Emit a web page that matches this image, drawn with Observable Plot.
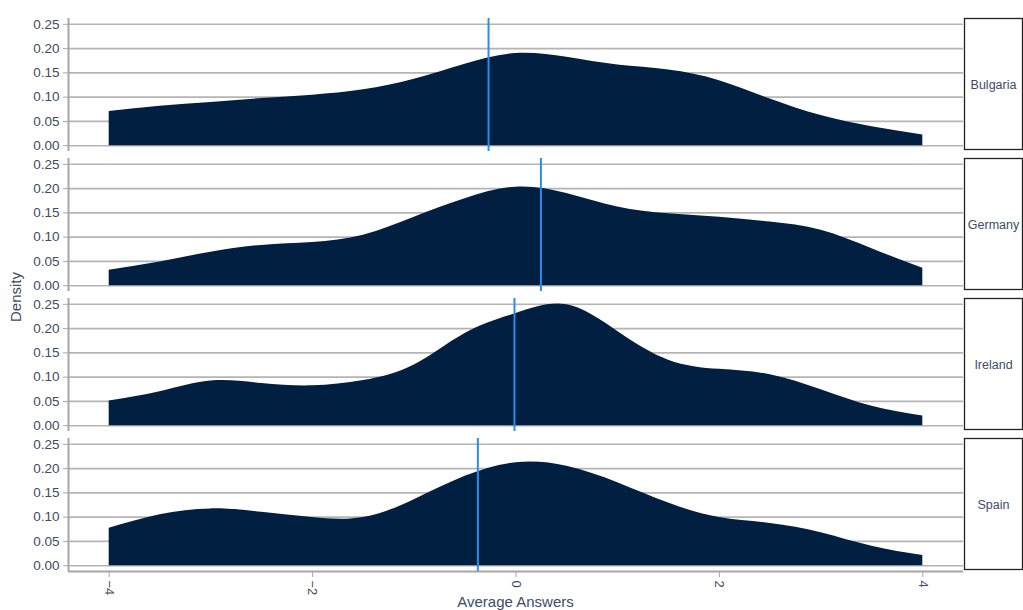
<!DOCTYPE html>
<html>
<head>
<meta charset="utf-8">
<script src="https://cdn.jsdelivr.net/npm/d3@7"></script>
<script src="https://cdn.jsdelivr.net/npm/@observablehq/plot@0.6"></script>
<style>
  html, body { margin: 0; padding: 0; background: #fff; }
  #chart { position: relative; width: 1023px; height: 610px; }
</style>
</head>
<body>
<div id="chart"></div>
<script>
const countries = ["Bulgaria", "Germany", "Ireland", "Spain"];
const answers = [-4, -3.5, -3, -2.5, -2, -1.5, -1, -0.5, 0, 0.5, 1, 1.5, 2, 2.5, 3, 3.5, 4];
const densityBulgaria = [0.0705, 0.081, 0.089, 0.097, 0.104, 0.115, 0.137, 0.168, 0.190, 0.182, 0.166, 0.156, 0.134, 0.096, 0.062, 0.039, 0.022];
const densityGermany  = [0.032, 0.049, 0.069, 0.083, 0.089, 0.104, 0.141, 0.179, 0.203, 0.190, 0.162, 0.148, 0.141, 0.131, 0.114, 0.076, 0.036];
const densityIreland  = [0.051, 0.070, 0.092, 0.087, 0.082, 0.093, 0.125, 0.190, 0.231, 0.249, 0.194, 0.135, 0.116, 0.105, 0.074, 0.040, 0.020];
const densitySpain    = [0.077, 0.105, 0.117, 0.110, 0.099, 0.099, 0.136, 0.184, 0.212, 0.205, 0.171, 0.129, 0.099, 0.087, 0.068, 0.040, 0.021];
const meanAnswers = [-0.27, 0.245, -0.015, -0.375];
const xTicks = [-4, -2, 0, 2, 4];
const yTicks = [0, 0.05, 0.10, 0.15, 0.20, 0.25];

const densities = [densityBulgaria, densityGermany, densityIreland, densitySpain];
const rows = countries.flatMap((c, i) => answers.map((x, j) => ({country: c, x, density: densities[i][j]})));
const means = countries.map((c, i) => ({country: c, mean: meanAnswers[i]}));

const xDomain = [-4.4, 4.4];
const yDomain = [-0.012, 0.262];
const textColor = "#3d4b66";
const axisGray = "#a6a6a6";

const W = 1023, H = 610, mL = 68, mR = 60;
const plotW = W - mL - mR;

const chart = Plot.plot({
  width: W,
  height: H,
  marginLeft: mL,
  marginRight: mR,
  marginTop: 16,
  marginBottom: 38,
  style: {fontFamily: "'Liberation Sans', Arial, sans-serif", fontSize: "13px", color: textColor, background: "#fff"},
  x: {domain: xDomain},
  y: {domain: yDomain},
  fy: {domain: countries, padding: 0.05, axis: null, label: null},
  marks: [
    Plot.gridY(yTicks, {stroke: "#b4b4b4", strokeOpacity: 1, strokeWidth: 1.6}),
    Plot.areaY(rows, {x: "x", y: "density", fy: "country", curve: "natural", fill: "#011f41"}),
    Plot.ruleX(means, {x: "mean", fy: "country", stroke: "#2a8cec", strokeWidth: 2}),
    Plot.ruleX([xDomain[0]], {stroke: axisGray, strokeWidth: 2}),
    Plot.axisY(yTicks, {tickFormat: ".2f", tickSize: 5, stroke: axisGray, fill: textColor, label: null, fontSize: 13.5}),
    Plot.ruleY(countries.slice(-1), {y: () => yDomain[0], fy: d => d, stroke: axisGray, strokeWidth: 2}),
    Plot.axisX(xTicks, {tickRotate: 90, tickSize: 6, stroke: axisGray, fill: textColor, tickPadding: 3,
      label: null, fontSize: 13}),
    Plot.frame({stroke: "#222", strokeWidth: 1.3, insetLeft: plotW + 1, insetRight: -(mR - 1), insetBottom: 2}),
    Plot.text(countries, {fy: d => d, text: d => d, frameAnchor: "right", dx: 30, textAnchor: "middle", fill: textColor, fontSize: 12.5})
  ]
});

document.getElementById("chart").appendChild(chart);

const svg = d3.select(chart);
svg.append("text")
  .attr("transform", "translate(21,297) rotate(-90)")
  .attr("text-anchor", "middle")
  .attr("fill", textColor)
  .attr("font-size", 15)
  .text("Density");
svg.append("text")
  .attr("x", mL + plotW / 2)
  .attr("y", 607)
  .attr("text-anchor", "middle")
  .attr("fill", textColor)
  .attr("font-size", 15)
  .text("Average Answers");
</script>
</body>
</html>
